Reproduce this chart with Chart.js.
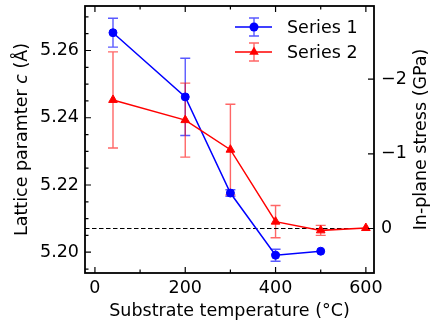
<!DOCTYPE html>
<html>
<head>
<meta charset="utf-8">
<script src="https://cdn.jsdelivr.net/npm/chart.js@4"></script>
<style>
  html, body { margin: 0; padding: 0; background: #fff; }
  #wrap { width: 430px; height: 327px; }
</style>
</head>
<body>
<div id="wrap"><canvas id="chart" width="430" height="327"></canvas></div>
<script>
// data
const temps1 = [40, 200, 300, 400, 500];
const lattice1 = [5.2653, 5.2462, 5.2176, 5.1991, 5.2003];
const err1 = [0.0043, 0.0115, 0.0010, 0.0018, 0];

const temps2 = [40, 200, 300, 400, 500, 600];
const lattice2 = [5.2453, 5.2393, 5.2305, 5.2091, 5.2065, 5.2072];
const err2 = [0.0143, 0.0110, 0.0135, 0.0048, 0.0015, 0];

const seriesNames = ["Series 1", "Series 2"];

const xTicks = [0, 200, 400, 600];
const yTicks = [5.20, 5.22, 5.24, 5.26];
const stressTicks = [-2, -1, 0];

const xRange = [-22, 618];
const yRange = [5.19382, 5.27324];
const stressRange = [-2.980, 0.596];

const FONT = "'DejaVu Sans', 'Liberation Sans', sans-serif";
const SIZE = 17.5;
const BLUE = "#0000ff";
const RED = "#ff0000";
const BLUE_BAR = "rgba(0,0,255,0.65)";
const RED_BAR = "rgba(255,0,0,0.6)";

function pts(xs, ys) {
    return xs.map((x, i) => ({ x: x, y: ys[i] }));
}

function setTicks(list) {
    return scale => { scale.ticks = list.map(v => ({ value: v })); };
}

// fixed axis boxes, no extra label padding
function fitTo(size, vertical) {
    return s => {
        if (vertical) s.width = size; else s.height = size;
        s.paddingTop = 0; s.paddingBottom = 0;
        s.paddingLeft = 0; s.paddingRight = 0;
    };
}

function minorList(lo, hi, step) {
    const out = [];
    for (let v = lo; v <= hi + 1e-9; v += step) out.push(+v.toFixed(6));
    return out;
}

function errorBars(ctx, xScale, yScale, xs, ys, errs, color) {
    ctx.save();
    ctx.strokeStyle = color;
    ctx.lineWidth = 1.4;
    xs.forEach((x, i) => {
        if (!errs[i]) return;
        const px = xScale.getPixelForValue(x);
        const top = yScale.getPixelForValue(ys[i] + errs[i]);
        const bot = yScale.getPixelForValue(ys[i] - errs[i]);
        ctx.beginPath();
        ctx.moveTo(px, top); ctx.lineTo(px, bot);
        ctx.moveTo(px - 5, top); ctx.lineTo(px + 5, top);
        ctx.moveTo(px - 5, bot); ctx.lineTo(px + 5, bot);
        ctx.stroke();
    });
    ctx.restore();
}

const decor = {
    id: "decor",
    beforeDatasetsDraw(chart) {
        const ctx = chart.ctx;
        const x = chart.scales.x, y = chart.scales.y;
        errorBars(ctx, x, y, temps1, lattice1, err1, BLUE_BAR);
        errorBars(ctx, x, y, temps2, lattice2, err2, RED_BAR);
    },
    afterDraw(chart) {
        const ctx = chart.ctx;
        const a = chart.chartArea;
        const x = chart.scales.x, y = chart.scales.y, y2 = chart.scales.y2;
        ctx.save();

        // inward ticks
        ctx.strokeStyle = "#000";
        ctx.lineWidth = 1.2;
        ctx.beginPath();
        minorList(0, 600, 100).forEach(v => {
            const len = xTicks.includes(v) ? 6 : 3.5;
            const px = x.getPixelForValue(v);
            ctx.moveTo(px, a.bottom); ctx.lineTo(px, a.bottom - len);
            ctx.moveTo(px, a.top); ctx.lineTo(px, a.top + len);
        });
        minorList(5.195, 5.270, 0.005).forEach(v => {
            const major = yTicks.some(t => Math.abs(t - v) < 1e-6);
            const len = major ? 6 : 3.5;
            const py = y.getPixelForValue(v);
            ctx.moveTo(a.left, py); ctx.lineTo(a.left + len, py);
        });
        stressTicks.forEach(v => {
            const py = y2.getPixelForValue(v);
            ctx.moveTo(a.right, py); ctx.lineTo(a.right - 6, py);
        });
        ctx.stroke();

        // frame
        ctx.lineWidth = 1.8;
        ctx.strokeRect(a.left, a.top, a.right - a.left, a.bottom - a.top);

        // axis titles
        ctx.fillStyle = "#000";
        ctx.textBaseline = "middle";
        ctx.textAlign = "center";
        ctx.font = SIZE + "px " + FONT;
        ctx.fillText("Substrate temperature (°C)", (a.left + a.right) / 2, 311);

        const midY = (a.top + a.bottom) / 2;
        ctx.save();
        ctx.translate(421, midY);
        ctx.rotate(-Math.PI / 2);
        ctx.fillText("In-plane stress (GPa)", 0, 0);
        ctx.restore();

        const parts = [["Lattice paramter ", ""], ["c", "italic "], [" (Å)", ""]];
        ctx.save();
        ctx.translate(22, midY);
        ctx.rotate(-Math.PI / 2);
        ctx.textAlign = "left";
        let total = 0;
        parts.forEach(p => { ctx.font = p[1] + SIZE + "px " + FONT; total += ctx.measureText(p[0]).width; });
        let cx = -total / 2;
        parts.forEach(p => {
            ctx.font = p[1] + SIZE + "px " + FONT;
            ctx.fillText(p[0], cx, 0);
            cx += ctx.measureText(p[0]).width;
        });
        ctx.restore();

        // legend
        const entries = [
            { name: seriesNames[0], color: BLUE, bar: BLUE_BAR, shape: "circle", yy: 27 },
            { name: seriesNames[1], color: RED, bar: RED_BAR, shape: "triangle", yy: 52 }
        ];
        entries.forEach(e => {
            ctx.strokeStyle = e.color;
            ctx.lineWidth = 1.5;
            ctx.beginPath();
            ctx.moveTo(235, e.yy); ctx.lineTo(272, e.yy);
            ctx.stroke();
            ctx.strokeStyle = e.bar;
            ctx.lineWidth = 1.4;
            ctx.beginPath();
            ctx.moveTo(254, e.yy - 9); ctx.lineTo(254, e.yy + 9);
            ctx.moveTo(249, e.yy - 9); ctx.lineTo(259, e.yy - 9);
            ctx.moveTo(249, e.yy + 9); ctx.lineTo(259, e.yy + 9);
            ctx.stroke();
            ctx.fillStyle = e.color;
            ctx.beginPath();
            if (e.shape === "circle") {
                ctx.arc(254, e.yy, 4.5, 0, Math.PI * 2);
            } else {
                const r = 5.5;
                ctx.moveTo(254, e.yy - r);
                ctx.lineTo(254 + r * 0.866, e.yy + r * 0.5);
                ctx.lineTo(254 - r * 0.866, e.yy + r * 0.5);
                ctx.closePath();
            }
            ctx.fill();
            ctx.fillStyle = "#000";
            ctx.textAlign = "left";
            ctx.font = SIZE + "px " + FONT;
            ctx.fillText(e.name, 287, e.yy + 1);
        });

        ctx.restore();
    }
};

new Chart(document.getElementById("chart").getContext("2d"), {
    type: "line",
    data: {
        datasets: [
            {
                label: seriesNames[1],
                data: pts(temps2, lattice2),
                yAxisID: "y",
                borderColor: RED,
                backgroundColor: RED,
                borderWidth: 1.5,
                pointStyle: "triangle",
                pointRadius: 5,
                pointBorderWidth: 1,
                order: 0
            },
            {
                label: seriesNames[0],
                data: pts(temps1, lattice1),
                yAxisID: "y",
                borderColor: BLUE,
                backgroundColor: BLUE,
                borderWidth: 1.5,
                pointStyle: "circle",
                pointRadius: 4,
                pointBorderWidth: 1,
                order: 1
            },
            {
                label: "zero stress",
                data: pts(xRange, [0, 0]),
                yAxisID: "y2",
                borderColor: "#000",
                borderWidth: 1.2,
                borderDash: [4.5, 2.5],
                pointRadius: 0,
                order: 2
            }
        ]
    },
    options: {
        responsive: false,
        animation: false,
        events: [],
        layout: { padding: { top: 3, left: 0, right: 0, bottom: 0 } },
        plugins: {
            legend: { display: false },
            tooltip: { enabled: false }
        },
        scales: {
            x: {
                type: "linear",
                min: xRange[0],
                max: xRange[1],
                grid: { display: false, drawTicks: false },
                border: { display: false },
                afterBuildTicks: setTicks(xTicks),
                afterFit: fitTo(54, false),
                ticks: { color: "#000", padding: 5, maxRotation: 0, font: { family: FONT, size: SIZE } }
            },
            y: {
                type: "linear",
                position: "left",
                min: yRange[0],
                max: yRange[1],
                grid: { display: false, drawTicks: false },
                border: { display: false },
                afterBuildTicks: setTicks(yTicks),
                afterFit: fitTo(85, true),
                ticks: {
                    color: "#000", padding: 6, font: { family: FONT, size: SIZE },
                    callback: v => v.toFixed(2)
                }
            },
            y2: {
                type: "linear",
                position: "right",
                reverse: true,
                min: stressRange[0],
                max: stressRange[1],
                grid: { display: false, drawTicks: false },
                border: { display: false },
                afterBuildTicks: setTicks(stressTicks),
                afterFit: fitTo(56, true),
                ticks: {
                    color: "#000", padding: 7, font: { family: FONT, size: SIZE },
                    callback: v => (v < 0 ? "\u2212" + Math.abs(v) : String(v))
                }
            }
        }
    },
    plugins: [decor]
});
</script>
</body>
</html>
